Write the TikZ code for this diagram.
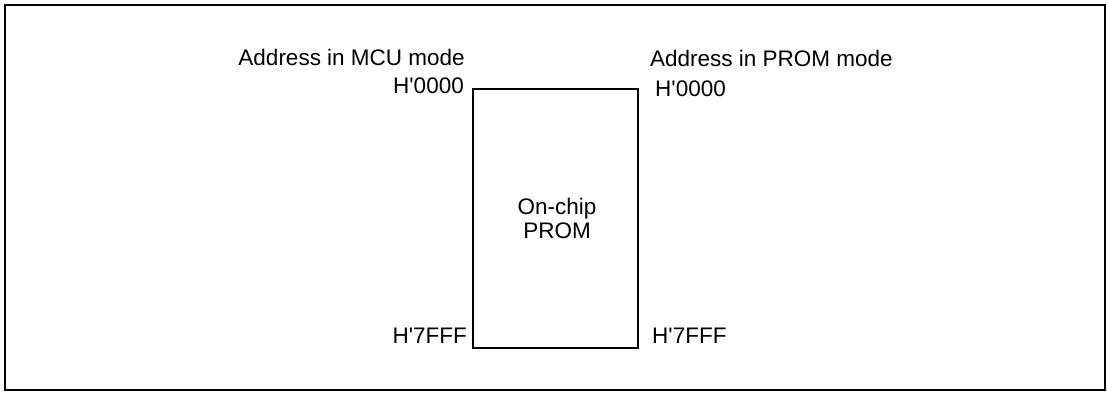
\documentclass[tikz,border=0pt]{standalone}
\usepackage{fontspec}
\setmainfont{Liberation Sans}
\begin{document}
\begin{tikzpicture}[x=1pt,y=1pt,
  lbl/.style={inner sep=0pt,font=\fontsize{22.5}{24}\selectfont},
  frm/.style={draw=black,line width=2.2pt}]
\useasboundingbox (0,0) rectangle (1108,393);
\draw[frm] (5,3) rectangle (1105,388);
\node[frm,minimum width=165pt,minimum height=259pt,inner sep=0pt,anchor=south west] (prom) at (472,44) {};
\node[lbl,align=center] (ptxt) at (557,175) {On-chip\\PROM};
\node[lbl,anchor=base east] (mcut) at (465,327) {Address in MCU mode};
\node[lbl,anchor=base west] (promt) at (650,326) {Address in PROM mode};
\node[lbl,anchor=base east] (l0) at (464,299) {H\textquotesingle0000};
\node[lbl,anchor=base west] (r0) at (655,296) {H\textquotesingle0000};
\node[lbl,anchor=base east] (l7) at (467,49) {H\textquotesingle7FFF};
\node[lbl,anchor=base west] (r7) at (652,49) {H\textquotesingle7FFF};
\end{tikzpicture}
\end{document}
